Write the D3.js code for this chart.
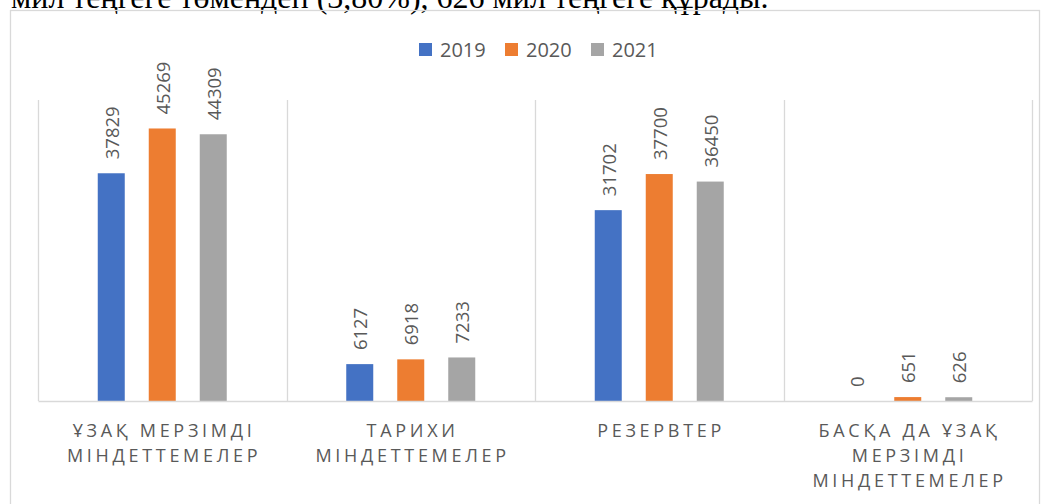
<!DOCTYPE html>
<html><head><meta charset="utf-8">
<script src="https://cdn.jsdelivr.net/npm/d3@7"></script>
<style>
html,body{margin:0;padding:0;background:#fff;overflow:hidden;}
svg{display:block;}
</style></head>
<body>
<svg id="chart" width="1047" height="504"></svg>
<script>
const categories = ["ҰЗАҚ МЕРЗІМДІ МІНДЕТТЕМЕЛЕР", "ТАРИХИ МІНДЕТТЕМЕЛЕР", "РЕЗЕРВТЕР", "БАСҚА ДА ҰЗАҚ МЕРЗІМДІ МІНДЕТТЕМЕЛЕР"];
const tickLabels = [["ҰЗАҚ МЕРЗІМДІ", "МІНДЕТТЕМЕЛЕР"], ["ТАРИХИ", "МІНДЕТТЕМЕЛЕР"], ["РЕЗЕРВТЕР"], ["БАСҚА ДА ҰЗАҚ", "МЕРЗІМДІ", "МІНДЕТТЕМЕЛЕР"]];
const seriesNames = ["2019", "2020", "2021"];
const values2019 = [37829, 6127, 31702, 0];
const values2020 = [45269, 6918, 37700, 651];
const values2021 = [44309, 7233, 36450, 626];
const seriesValues = [values2019, values2020, values2021];
const colors = ["#4472C4", "#ED7D31", "#A5A5A5"];
const headerText = "мил теңгеге төмендеп (3,80%), 626 мил теңгеге құрады.";

(function () {
const svg = d3.select("#chart");
const textColor = "#595959";
const gridColor = "#d9d9d9";

// header text (partially cut off, as in the source page)
svg.append("text").attr("x", 11).attr("y", 8)
  .attr("font-family", "Liberation Serif, Times New Roman, serif")
  .attr("font-size", 32).attr("fill", "#000").text(headerText);

// chart border
svg.append("rect").attr("x", 10.5).attr("y", 10.5).attr("width", 1029).attr("height", 600)
  .attr("fill", "none").attr("stroke", gridColor).attr("stroke-width", 1.3);

const pLeft = 38, pRight = 1032, pTop = 100, pBottom = 401;
const x0 = d3.scaleBand().domain(categories).range([pLeft, pRight]).padding(0);
const bw = x0.bandwidth();
const x1 = d3.scaleBand().domain(seriesNames)
  .range([bw / 2 - 76.5, bw / 2 + 76.5]).paddingInner(0.4706).paddingOuter(0.2353);
const y = d3.scaleLinear().domain([0, 50000]).range([pBottom, pTop]);

// category separators
const seps = categories.map(c => x0(c)).concat([x0(categories[categories.length - 1]) + bw]);
svg.append("g").selectAll("line").data(seps).join("line")
  .attr("x1", d => Math.round(d) + 0.5).attr("x2", d => Math.round(d) + 0.5)
  .attr("y1", pTop).attr("y2", pBottom)
  .attr("stroke", gridColor).attr("stroke-width", 1.3);

// bars
const groups = svg.append("g").selectAll("g").data(categories).join("g")
  .attr("transform", d => `translate(${x0(d)},0)`);
groups.selectAll("rect").data((c, i) => seriesNames.map((s, j) => ({s, v: seriesValues[j][i], j})))
  .join("rect")
  .attr("x", d => x1(d.s)).attr("width", x1.bandwidth())
  .attr("y", d => y(d.v)).attr("height", d => pBottom - y(d.v))
  .attr("fill", d => colors[d.j]);

// data labels
groups.selectAll("text").data((c, i) => seriesNames.map((s, j) => ({s, v: seriesValues[j][i], j})))
  .join("text")
  .attr("transform", d => `translate(${x1(d.s) + x1.bandwidth() / 2 + 1},${y(d.v) - 14}) rotate(-90)`)
  .attr("dy", "0.36em")
  .attr("font-family", "Open Sans, sans-serif").attr("font-size", 18.5)
  .attr("fill", textColor).text(d => d.v);

// x axis
const axis = svg.append("g").attr("transform", `translate(0,${pBottom})`)
  .call(d3.axisBottom(x0).tickSize(0).tickFormat(""));
axis.select(".domain").attr("stroke", gridColor).attr("stroke-width", 1.3);

const ls = 3.7;
const catLabels = svg.append("g").selectAll("text").data(categories).join("text")
  .attr("text-anchor", "middle")
  .attr("font-family", "Open Sans, sans-serif").attr("font-size", 18)
  .attr("letter-spacing", ls)
  .attr("fill", textColor);
catLabels.selectAll("tspan").data((c, i) => tickLabels[i].map(t => ({t, c})))
  .join("tspan")
  .attr("x", d => x0(d.c) + bw / 2 + ls / 2)
  .attr("y", (d, k) => 437 + k * 25)
  .text(d => d.t);

// legend
const legend = svg.append("g").selectAll("g").data(seriesNames).join("g")
  .attr("transform", (d, i) => `translate(${419 + i * 86},43)`);
legend.append("rect").attr("width", 13).attr("height", 13).attr("fill", (d, i) => colors[i]);
legend.append("text").attr("x", 21).attr("y", 13.5)
  .attr("font-family", "Open Sans, sans-serif").attr("font-size", 20)
  .attr("fill", textColor).text(d => d);
})();
</script>
</body></html>
